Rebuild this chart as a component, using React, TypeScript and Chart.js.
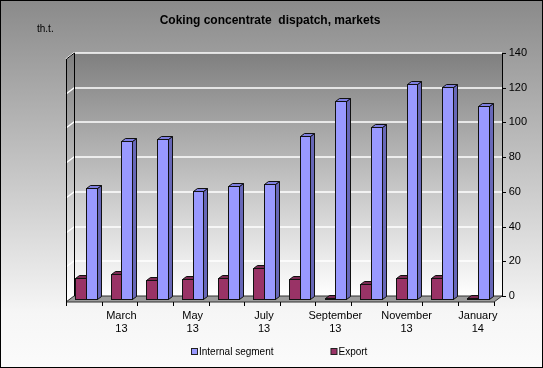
import React, { useEffect, useRef } from "react";
import { Chart, registerables } from "chart.js";

Chart.register(...registerables);

const categories = [
  "February 13", "March 13", "April 13", "May 13", "June 13", "July 13",
  "August 13", "September 13", "October 13", "November 13", "December 13", "January 14",
];
const internalSegment = [64, 91, 92, 62, 65, 66, 94, 114, 99, 124, 122, 111];
const exportValues = [12, 14.5, 11, 11.5, 12, 18, 11.5, 0.5, 8.5, 12, 12, 0.5];
const yTicks = [0, 20, 40, 60, 80, 100, 120, 140];
const titleText = "Coking concentrate  dispatch, markets";
const unitText = "th.t.";

const FONT = "Arial, 'Liberation Sans', sans-serif";

const BLUE = { face: "#9999FF", side: "#6767B8", top: "#7E7EE0" };
const RED = { face: "#993366", side: "#5E1F3E", top: "#7A2952" };

const decor = {
  id: "decor",
  beforeDraw(chart: any) {
    const { ctx, width, height, chartArea: ca, scales } = chart;
    const ys = scales.y;
    ctx.save();
    const g = ctx.createLinearGradient(0, 0, 0, height);
    g.addColorStop(0, "#8a8a8a");
    g.addColorStop(0.85, "#f6f6f6");
    g.addColorStop(1, "#fbfbfb");
    ctx.fillStyle = g;
    ctx.fillRect(0, 0, width, height);

    const FL = Math.round(ca.left) - 2;
    const BL = FL + 8;
    const BR = Math.round(ca.right) + 6;
    const FR = BR - 8;
    const yB0 = Math.round(ys.getPixelForValue(0)) - 3;
    const yF0 = yB0 + 6;
    const yTop = Math.round(ys.getPixelForValue(140)) - 3;

    const pg = ctx.createLinearGradient(0, yTop, 0, yB0);
    pg.addColorStop(0, "#7f7f7f");
    pg.addColorStop(1, "#ffffff");
    ctx.fillStyle = pg;
    ctx.fillRect(BL, yTop, BR - BL, yB0 - yTop);
    ctx.beginPath();
    ctx.moveTo(FL, yTop + 6);
    ctx.lineTo(BL, yTop);
    ctx.lineTo(BL, yB0);
    ctx.lineTo(FL, yF0);
    ctx.closePath();
    ctx.fill();

    ctx.strokeStyle = "#ffffff";
    ctx.lineWidth = 1.5;
    for (const v of yTicks) {
      if (v === 0) continue;
      const y = Math.round(ys.getPixelForValue(v)) - 3;
      ctx.beginPath();
      ctx.moveTo(FL, y + 6);
      ctx.lineTo(BL, y);
      ctx.lineTo(BR, y);
      ctx.stroke();
    }

    ctx.beginPath();
    ctx.moveTo(FL, yF0);
    ctx.lineTo(FR, yF0);
    ctx.lineTo(BR, yB0);
    ctx.lineTo(BL, yB0);
    ctx.closePath();
    ctx.fillStyle = "#9c9c9c";
    ctx.fill();
    ctx.strokeStyle = "#303030";
    ctx.lineWidth = 1;
    ctx.stroke();

    ctx.strokeStyle = "#000";
    ctx.lineWidth = 1;
    ctx.beginPath();
    ctx.moveTo(FL + 0.5, yTop + 6);
    ctx.lineTo(FL + 0.5, yF0 + 4);
    ctx.moveTo(FL + 0.5, yTop + 6);
    ctx.lineTo(BL + 0.5, yTop);
    ctx.moveTo(BL + 0.5, yTop);
    ctx.lineTo(BL + 0.5, yB0);
    ctx.stroke();

    ctx.beginPath();
    ctx.moveTo(BR + 0.5, yTop);
    ctx.lineTo(BR + 0.5, yB0);
    for (const v of yTicks) {
      const y = Math.round(ys.getPixelForValue(v)) - 3 + 0.5;
      ctx.moveTo(BR, y);
      ctx.lineTo(BR + 4, y);
    }
    ctx.stroke();

    const n = categories.length;
    const w = (ca.right - ca.left) / n;
    ctx.beginPath();
    for (let k = 0; k <= n; k++) {
      const x = Math.round(ca.left + k * w - 2) + 0.5;
      ctx.moveTo(x, yF0);
      ctx.lineTo(x, yF0 + 4);
    }
    ctx.stroke();

    ctx.fillStyle = "#000";
    ctx.font = "10px " + FONT;
    ctx.textBaseline = "middle";
    ctx.textAlign = "left";
    ctx.fillText(unitText, 37, 29);
    ctx.restore();
  },
  beforeDatasetsDraw(chart: any) {
    const { ctx } = chart;
    const metas = chart.data.datasets.map((_: any, i: number) => chart.getDatasetMeta(i));
    const palettes = [RED, BLUE];
    const dx = 4, dy = 3;
    ctx.save();
    ctx.lineWidth = 1;
    ctx.strokeStyle = "#111";
    for (let j = 0; j < categories.length; j++) {
      metas.forEach((meta: any, di: number) => {
        const el = meta.data[j];
        if (!el) return;
        const p = palettes[di];
        const x0 = Math.round(el.x - el.width / 2) + 0.5;
        const x1 = Math.round(el.x + el.width / 2) + 0.5;
        const yT = Math.round(el.y) + 0.5;
        const yB = Math.round(el.base) + 0.5;
        ctx.beginPath();
        ctx.moveTo(x1, yB);
        ctx.lineTo(x1 + dx, yB - dy);
        ctx.lineTo(x1 + dx, yT - dy);
        ctx.lineTo(x1, yT);
        ctx.closePath();
        ctx.fillStyle = p.side;
        ctx.fill();
        ctx.stroke();
        ctx.beginPath();
        ctx.moveTo(x0, yT);
        ctx.lineTo(x0 + dx, yT - dy);
        ctx.lineTo(x1 + dx, yT - dy);
        ctx.lineTo(x1, yT);
        ctx.closePath();
        ctx.fillStyle = p.top;
        ctx.fill();
        ctx.stroke();
        ctx.fillStyle = p.face;
        ctx.fillRect(x0, yT, x1 - x0, yB - yT);
        ctx.strokeRect(x0, yT, x1 - x0, yB - yT);
      });
    }
    ctx.restore();
    return false;
  },
  afterDraw(chart: any) {
    const { ctx, width, height } = chart;
    ctx.save();
    ctx.font = "10px " + FONT;
    ctx.textBaseline = "middle";
    ctx.textAlign = "left";
    const items = chart.data.datasets.slice().reverse();
    const gap = 57;
    const widths = items.map((d: any) => 8 + ctx.measureText(d.label).width);
    const total = widths.reduce((a: number, b: number) => a + b, 0) + gap * (items.length - 1);
    let x = Math.round(279 - total / 2);
    const y = 352;
    items.forEach((d: any, i: number) => {
      ctx.fillStyle = d.backgroundColor;
      ctx.fillRect(x + 0.5, y - 3.5, 6, 6);
      ctx.strokeStyle = "#222";
      ctx.lineWidth = 1;
      ctx.strokeRect(x + 0.5, y - 3.5, 6, 6);
      ctx.fillStyle = "#000";
      ctx.fillText(d.label, x + 8, y);
      x += widths[i] + gap;
    });
    ctx.strokeStyle = "#000";
    ctx.lineWidth = 1;
    ctx.strokeRect(0.5, 0.5, width - 1, height - 1);
    ctx.restore();
  },
};

export default function App() {
  const ref = useRef<HTMLCanvasElement | null>(null);
  useEffect(() => {
    document.body.style.margin = "0";
    const canvas = ref.current;
    if (!canvas) return;
    const chart = new Chart(canvas, {
      type: "bar",
      data: {
        labels: categories,
        datasets: [
          { label: "Export", data: exportValues, backgroundColor: RED.face, borderColor: "#111", borderWidth: 1 },
          { label: "Internal segment", data: internalSegment, backgroundColor: BLUE.face, borderColor: "#111", borderWidth: 1 },
        ],
      },
      options: {
        animation: false,
        responsive: false,
        maintainAspectRatio: false,
        datasets: { bar: { categoryPercentage: 0.6, barPercentage: 1.0 } },
        layout: { padding: { left: 0, right: 3, top: 0, bottom: 22.6 } },
        plugins: {
          legend: { display: false },
          tooltip: { enabled: false },
          title: {
            display: true,
            text: titleText,
            color: "#000",
            font: { family: FONT, size: 12, weight: "bold" },
            padding: { top: 13, bottom: 28.6 },
          },
        },
        scales: {
          x: {
            grid: { display: false, drawTicks: false },
            border: { display: false },
            ticks: {
              autoSkip: false,
              maxRotation: 0,
              padding: 10,
              color: "#000",
              font: { family: FONT, size: 11 },
              callback: (_v: any, i: number) => (i % 2 === 1 ? categories[i].split(" ") : ""),
            },
          },
          y: {
            position: "right",
            min: 0,
            max: 140,
            grid: { display: false, drawTicks: false },
            border: { display: false },
            ticks: {
              stepSize: 20,
              padding: 13,
              labelOffset: -3,
              color: "#000",
              font: { family: FONT, size: 11 },
            },
          },
          spacer: {
            type: "linear",
            position: "left",
            display: true,
            grid: { display: false, drawTicks: false },
            border: { display: false },
            ticks: { display: false },
            afterFit: (s: any) => {
              s.width = 68;
            },
          },
        },
      },
      plugins: [decor],
    });
    return () => chart.destroy();
  }, []);
  return <canvas ref={ref} width={543} height={368} style={{ display: "block" }} />;
}
